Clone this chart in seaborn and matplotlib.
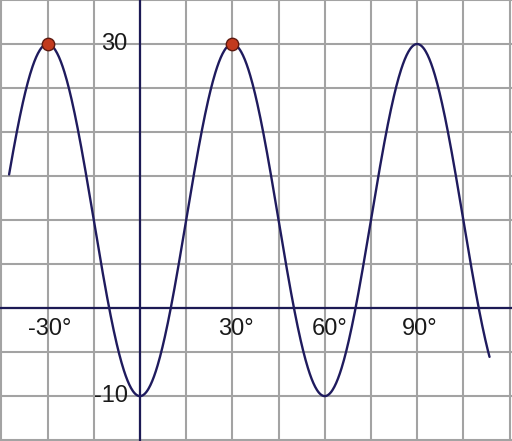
import numpy as np
import pandas as pd
import seaborn as sns
import matplotlib
matplotlib.use("Agg")
import matplotlib.pyplot as plt

#---------------------------------- values
# the curve is y = midline - amplitude * cos(360 * x / period), x in degrees
midline = 10
amplitude = 20
period = 60
x_start = -42.5
x_end = 113.5

# highlighted maxima
peak_x = [-30, 30]
peak_y = [30, 30]

# axis labels written on the grid
x_label_text = ["-30°", "30°", "60°", "90°"]
x_label_pos = [-29.2, 31.0, 61.5, 90.9]
y_label_text = ["30", "-10"]
y_label_pos = [30, -10]

#---------------------------------- build the curve
deg = np.linspace(x_start, x_end, 800)
curve = pd.DataFrame({"x": deg, "y": midline - amplitude * np.cos(np.radians(360 * deg / period))})
peaks = pd.DataFrame({"x": peak_x, "y": peak_y})

#---------------------------------- plot
sns.set_style("white")
plt.rcParams["font.family"] = ["Liberation Sans", "DejaVu Sans"]

fig = plt.figure(figsize=(5.12, 4.41), dpi=100)
ax = fig.add_axes([0, 0, 1, 1])

grid_col = "#a3a3a3"
axis_col = "#1c1a55"
for gx in np.arange(-45, 121, 15):
    ax.axvline(gx, color=grid_col, lw=1.5, zorder=0)
for gy in np.arange(-15, 36, 5):
    ax.axhline(gy, color=grid_col, lw=1.5, zorder=0)
ax.axhline(0, color=axis_col, lw=1.6, zorder=1)
ax.axvline(0, color=axis_col, lw=1.6, zorder=1)

sns.lineplot(data=curve, x="x", y="y", color="#1f1b5e", lw=1.7, sort=False, ax=ax, zorder=2)
sns.scatterplot(data=peaks, x="x", y="y", s=80, color="#c23a1e", edgecolor="#5e1a10",
                linewidth=1.0, ax=ax, zorder=3)

for t, px in zip(x_label_text, x_label_pos):
    ax.text(px, -2.4, t, ha="center", va="center", fontsize=17, color="#1a1a1a")
for t, py in zip(y_label_text, y_label_pos):
    ax.text(-4.0, py, t, ha="right", va="center", fontsize=17, color="#1a1a1a")

ax.set_xlim(-45.45, 120.8)
ax.set_ylim(-15.1, 35)
ax.set_xticks([])
ax.set_yticks([])
ax.set_xlabel("")
ax.set_ylabel("")
for s in ax.spines.values():
    s.set_visible(False)

fig.savefig("out.png", dpi=100)
